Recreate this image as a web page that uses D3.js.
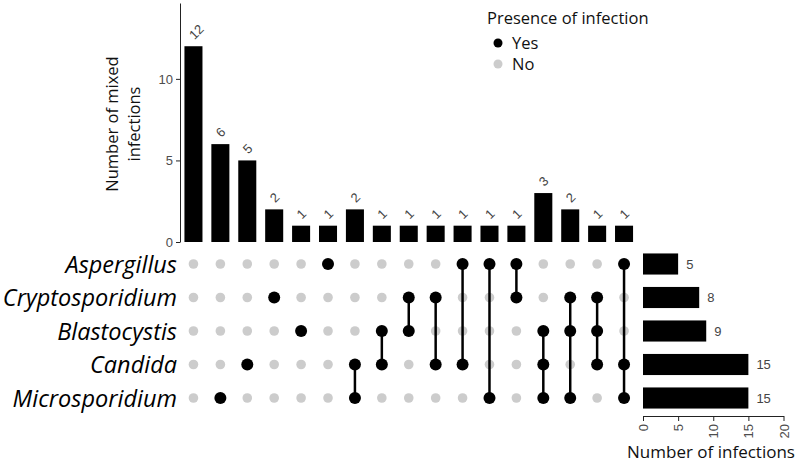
<!DOCTYPE html>
<html>
<head>
<meta charset="utf-8">
<script src="https://cdn.jsdelivr.net/npm/d3@7"></script>
<style>
  body { margin: 0; background: #fff; }
  svg { display: block; font-family: "Open Sans", sans-serif; }
</style>
</head>
<body>
<svg width="797" height="464"></svg>
<script>
// DATA

var sets = ["Aspergillus", "Cryptosporidium", "Blastocystis", "Candida", "Microsporidium"];
var setSizes = [5, 8, 9, 15, 15];

// each intersection: which sets are present
var combos = [
    [],
    ["Microsporidium"],
    ["Candida"],
    ["Cryptosporidium"],
    ["Blastocystis"],
    ["Aspergillus"],
    ["Candida", "Microsporidium"],
    ["Blastocystis", "Candida"],
    ["Cryptosporidium", "Blastocystis"],
    ["Cryptosporidium", "Candida"],
    ["Aspergillus", "Candida"],
    ["Aspergillus", "Microsporidium"],
    ["Aspergillus", "Cryptosporidium"],
    ["Blastocystis", "Candida", "Microsporidium"],
    ["Cryptosporidium", "Blastocystis", "Microsporidium"],
    ["Cryptosporidium", "Blastocystis", "Candida"],
    ["Aspergillus", "Candida", "Microsporidium"]
];
var comboCounts = [12, 6, 5, 2, 1, 1, 2, 1, 1, 1, 1, 1, 1, 3, 2, 1, 1];

var topTicks = [0, 5, 10];
var sideTicks = [0, 5, 10, 15, 20];

// SETUP

var svg = d3.select("svg");
var idx = d3.range(combos.length);
var numFont = "'Liberation Sans', Arial, sans-serif";

var x = d3.scaleBand().domain(idx).range([180, 637.5])
    .paddingInner(0.33).paddingOuter(0.165);
var y = d3.scaleLinear().domain([0, 14.65]).range([242, 3]);
var row = d3.scaleBand().domain(sets).range([247.25, 414.75])
    .paddingInner(0.37).paddingOuter(0.185);
var xs = d3.scaleLinear().domain([0, 20]).range([643, 783.5]);

function cx(i) { return x(i) + x.bandwidth() / 2; }
function cy(s) { return row(s) + row.bandwidth() / 2; }

// TOP BARS

var yAxis = svg.append("g")
    .attr("transform", "translate(180,0)")
    .call(d3.axisLeft(y).tickValues(topTicks).tickSize(4).tickSizeOuter(0));
yAxis.select(".domain").attr("stroke", "#222");
yAxis.selectAll(".tick line").attr("stroke", "#222");
yAxis.selectAll(".tick text")
    .attr("fill", "#4d4d4d")
    .style("font-family", numFont)
    .style("font-size", "13px");

svg.append("g").selectAll("rect")
    .data(idx)
    .enter().append("rect")
    .attr("x", function (d) { return x(d); })
    .attr("y", function (d) { return y(comboCounts[d]); })
    .attr("width", x.bandwidth())
    .attr("height", function (d) { return y(0) - y(comboCounts[d]); })
    .attr("fill", "#000");

svg.append("g").selectAll("text")
    .data(idx)
    .enter().append("text")
    .attr("transform", function (d) {
        return "translate(" + (cx(d) + 1) + "," + (y(comboCounts[d]) - 6) + ") rotate(-45)";
    })
    .attr("fill", "#444")
    .style("font-family", numFont)
    .style("font-size", "13px")
    .text(function (d) { return comboCounts[d]; });

var ylab = svg.append("text")
    .attr("transform", "translate(123,124) rotate(-90)")
    .attr("text-anchor", "middle")
    .style("font-size", "16.5px")
    .attr("fill", "#111");
ylab.append("tspan").attr("x", 0).attr("dy", "-0.3em").text("Number of mixed");
ylab.append("tspan").attr("x", 0).attr("dy", "1.35em").text("infections");

// LEGEND

svg.append("text").attr("x", 487).attr("y", 24)
    .style("font-size", "16.5px").attr("fill", "#111")
    .text("Presence of infection");
var legend = [["Yes", "#000"], ["No", "#cccccc"]];
legend.forEach(function (l, i) {
    svg.append("circle").attr("cx", 498).attr("cy", 43 + i * 21)
        .attr("r", 4.5).attr("fill", l[1]);
    svg.append("text").attr("x", 512).attr("y", 43 + i * 21)
        .attr("dy", "0.35em").style("font-size", "16.5px").attr("fill", "#111")
        .text(l[0]);
});

// MATRIX

svg.append("g").selectAll("text")
    .data(sets)
    .enter().append("text")
    .attr("x", 177)
    .attr("y", function (d) { return cy(d); })
    .attr("dy", "0.37em")
    .attr("text-anchor", "end")
    .style("font-style", "italic")
    .style("font-size", "23.5px")
    .attr("fill", "#000")
    .text(function (d) { return d; });

var cells = [];
idx.forEach(function (i) {
    sets.forEach(function (s) {
        cells.push({ i: i, s: s, on: combos[i].indexOf(s) >= 0 });
    });
});

svg.append("g").selectAll("circle")
    .data(cells.filter(function (c) { return !c.on; }))
    .enter().append("circle")
    .attr("cx", function (d) { return cx(d.i); })
    .attr("cy", function (d) { return cy(d.s); })
    .attr("r", 4.8)
    .attr("fill", "#cccccc");

svg.append("g").selectAll("line")
    .data(idx.filter(function (i) { return combos[i].length > 1; }))
    .enter().append("line")
    .attr("x1", function (d) { return cx(d); })
    .attr("x2", function (d) { return cx(d); })
    .attr("y1", function (d) { return d3.min(combos[d], cy); })
    .attr("y2", function (d) { return d3.max(combos[d], cy); })
    .attr("stroke", "#000")
    .attr("stroke-width", 2.5);

svg.append("g").selectAll("circle")
    .data(cells.filter(function (c) { return c.on; }))
    .enter().append("circle")
    .attr("cx", function (d) { return cx(d.i); })
    .attr("cy", function (d) { return cy(d.s); })
    .attr("r", 6)
    .attr("fill", "#000");

// SET SIZE BARS

svg.append("g").selectAll("rect")
    .data(sets)
    .enter().append("rect")
    .attr("x", xs(0))
    .attr("y", function (d) { return row(d); })
    .attr("width", function (d, i) { return xs(setSizes[i]) - xs(0); })
    .attr("height", row.bandwidth())
    .attr("fill", "#000");

svg.append("g").selectAll("text")
    .data(sets)
    .enter().append("text")
    .attr("x", function (d, i) { return xs(setSizes[i]) + 8; })
    .attr("y", function (d) { return cy(d); })
    .attr("dy", "0.35em")
    .attr("fill", "#444")
    .style("font-family", numFont)
    .style("font-size", "13px")
    .text(function (d, i) { return setSizes[i]; });

var xAxis = svg.append("g")
    .attr("transform", "translate(0,416)")
    .call(d3.axisBottom(xs).tickValues(sideTicks).tickSize(5).tickSizeOuter(0));
xAxis.select(".domain").attr("stroke", "#222");
xAxis.selectAll(".tick line").attr("stroke", "#222");
xAxis.selectAll(".tick text")
    .attr("fill", "#4d4d4d")
    .style("font-family", numFont)
    .style("font-size", "13px")
    .attr("text-anchor", "end")
    .attr("transform", "rotate(-90)")
    .attr("x", -8)
    .attr("y", 0)
    .attr("dy", "0.35em");

svg.append("text")
    .attr("x", 711).attr("y", 458)
    .attr("text-anchor", "middle")
    .style("font-size", "17px")
    .attr("fill", "#111")
    .text("Number of infections");
</script>
</body>
</html>
